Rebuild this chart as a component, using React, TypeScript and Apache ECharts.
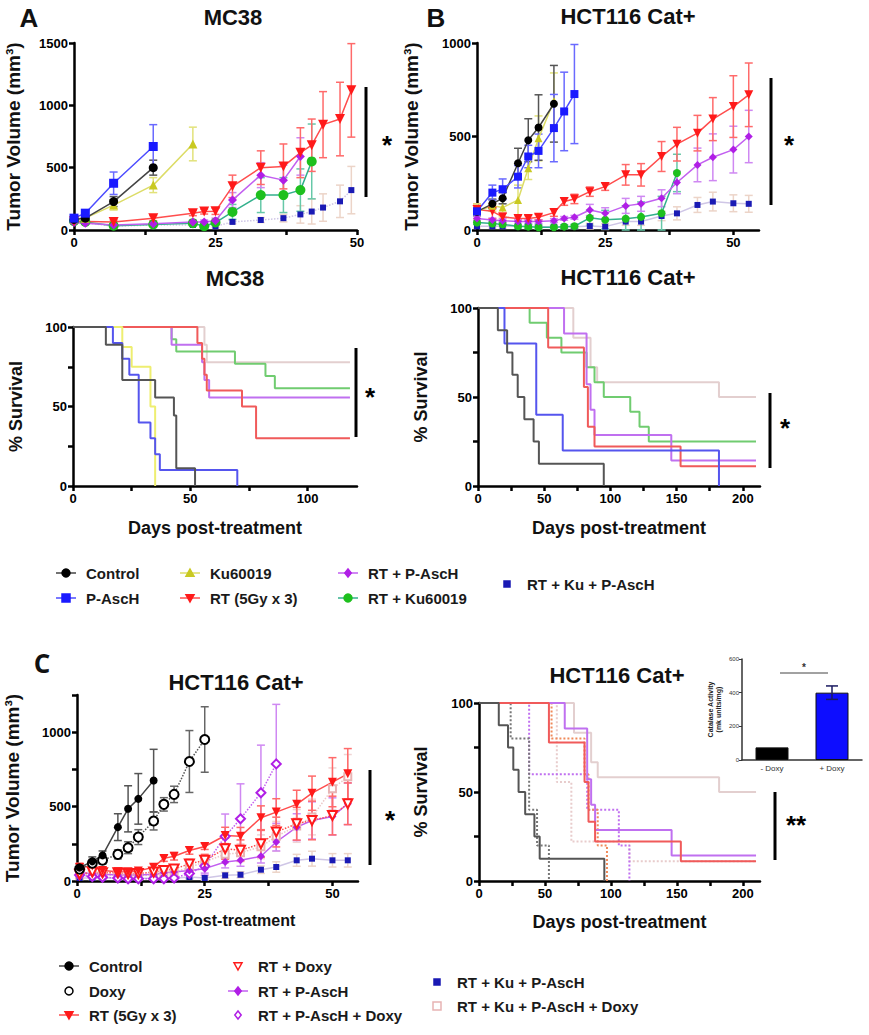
import { useEffect, useRef } from "react";
import * as echarts from "echarts";

const FONT = '"Liberation Sans", Arial, Helvetica, sans-serif';

// ================= Panel A top: MC38 tumor volume =================
const aCtrlDays = [0, 2, 7, 14];
const aCtrlVol = [85, 95, 228, 500];
const aCtrlErr = [15, 15, 40, 60];
const aPaschDays = [0, 2, 7, 14];
const aPaschVol = [95, 135, 375, 670];
const aPaschErr = [15, 20, 90, 175];
const aKuDays = [0, 2, 7, 14, 21];
const aKuVol = [90, 95, 200, 360, 690];
const aKuErr = [15, 15, 40, 60, 135];
const aRtDays = [0, 7, 14, 21, 23, 25, 28, 33, 37, 40, 42, 44, 47, 49];
const aRtVol = [70, 65, 95, 135, 148, 150, 350, 500, 510, 620, 680, 845, 890, 1120];
const aRtErr = [10, 15, 20, 20, 20, 25, 90, 135, 180, 200, 210, 265, 295, 375];
const aRtPaDays = [0, 2, 7, 14, 21, 23, 25, 28, 33, 37, 40];
const aRtPaVol = [60, 55, 40, 50, 65, 65, 75, 240, 440, 400, 590];
const aRtPaErr = [10, 10, 10, 10, 15, 15, 20, 60, 100, 120, 150];
const aRtKuDays = [0, 2, 7, 14, 21, 23, 25, 28, 33, 37, 40, 42];
const aRtKuVol = [70, 65, 35, 45, 55, 30, 60, 145, 280, 280, 320, 550];
const aRtKuErr = [10, 10, 10, 10, 15, 10, 15, 60, 140, 140, 170, 300];
const aRtKuPaDays = [0, 7, 14, 21, 25, 28, 33, 37, 40, 42, 44, 47, 49];
const aRtKuPaVol = [70, 30, 40, 40, 30, 65, 80, 95, 125, 148, 180, 230, 320];
const aRtKuPaErr = [10, 10, 10, 10, 10, 15, 20, 30, 70, 100, 110, 130, 190];

// ================= Panel B top: HCT116 Cat+ tumor volume =================
const bCtrlDays = [0, 3, 5, 8, 10, 12, 15];
const bCtrlVol = [98, 140, 170, 357, 480, 548, 675];
const bCtrlErr = [20, 25, 30, 80, 115, 175, 205];
const bKuDays = [0, 3, 5, 8, 10, 12, 15];
const bKuVol = [100, 130, 120, 160, 330, 490, 690];
const bKuErr = [40, 30, 50, 80, 60, 120, 150];
const bPaschDays = [0, 3, 5, 8, 10, 12, 15, 17, 19];
const bPaschVol = [100, 200, 218, 285, 393, 423, 545, 634, 727];
const bPaschErr = [20, 40, 55, 60, 60, 90, 180, 210, 265];
const bRtDays = [0, 3, 5, 8, 10, 12, 15, 17, 19, 22, 25, 29, 32, 36, 39, 43, 46, 50, 53];
const bRtVol = [110, 100, 70, 62, 62, 68, 93, 152, 166, 205, 232, 295, 295, 393, 459, 518, 593, 660, 723];
const bRtErr = [30, 40, 20, 15, 15, 15, 20, 20, 25, 25, 20, 55, 60, 80, 90, 95, 115, 165, 170];
const bRtPaDays = [0, 3, 5, 8, 10, 12, 15, 17, 19, 22, 25, 29, 32, 36, 39, 43, 46, 50, 53];
const bRtPaVol = [62, 54, 50, 45, 45, 45, 50, 62, 68, 107, 89, 129, 140, 170, 254, 348, 389, 430, 500];
const bRtPaErr = [10, 10, 10, 10, 10, 10, 10, 10, 10, 30, 30, 40, 40, 45, 60, 90, 125, 125, 140];
const bRtKuDays = [0, 3, 5, 8, 10, 12, 15, 17, 19, 22, 25, 29, 32, 36, 39];
const bRtKuVol = [40, 35, 30, 20, 18, 15, 15, 18, 20, 65, 55, 60, 70, 90, 305];
const bRtKuErr = [10, 10, 10, 10, 10, 10, 10, 10, 10, 40, 50, 70, 80, 90, 100];
const bRtKuPaDays = [0, 3, 5, 8, 10, 12, 15, 17, 19, 22, 25, 29, 32, 36, 39, 43, 46, 50, 53];
const bRtKuPaVol = [20, 20, 20, 20, 20, 18, 18, 18, 18, 21, 18, 45, 45, 75, 89, 134, 152, 143, 140];
const bRtKuPaErr = [10, 10, 10, 10, 10, 10, 10, 10, 10, 15, 15, 20, 20, 25, 35, 40, 50, 45, 45];

// ================= Survival A (MC38) =================
const sACtrl = [[0, 100], [14, 88.9], [21, 66.7], [35, 55.6], [43, 44.4], [44, 11.1], [52, 0]];
const sAPasch = [[0, 100], [17, 90], [21, 80], [24, 70], [28, 40], [33, 30], [35, 20], [37, 10], [70, 0]];
const sAKu = [[0, 100], [21, 87.5], [25, 75], [33, 50], [35, 0]];
const sARt = [[0, 100], [53, 90], [55, 80], [56, 70], [57, 60], [72, 50], [78, 30], [118, 30]];
const sARtPa = [[0, 100], [42, 88.9], [55, 77.8], [56, 66.7], [58, 55.6], [118, 55.6]];
const sARtKu = [[0, 100], [42, 92.3], [44, 84.6], [69, 76.9], [82, 69.2], [86, 61.5], [118, 61.5]];
const sARtKuPa = [[0, 100], [56, 88.9], [57, 77.8], [118, 77.8]];

// ================= Survival B (HCT116 Cat+) =================
const sBCtrl = [[0, 100], [15, 87.5], [22, 75], [26, 62.5], [30, 50], [35, 37.5], [42, 25], [46, 12.5], [95, 0]];
const sBPasch = [[0, 100], [20, 80], [44, 40], [64, 20], [182, 0]];
const sBRt = [[0, 100], [53, 77.8], [80, 55.6], [83, 33.3], [88, 22.2], [153, 11.1], [210, 11.1]];
const sBRtKu = [[0, 100], [39, 91.7], [52, 83.3], [63, 75], [82, 66.7], [88, 58.3], [95, 50], [115, 41.7], [122, 33.3], [129, 25], [210, 25]];
const sBRtPa = [[0, 100], [65, 85.7], [82, 57.1], [85, 42.9], [88, 28.6], [146, 14.3], [210, 14.3]];
const sBRtKuPa = [[0, 100], [72, 83.3], [85, 66.7], [90, 58.3], [182, 50], [210, 50]];

// ================= Panel C left: HCT116 Cat+ (+/- Doxy) tumor volume =================
const cCtrlDays = [0.5, 3, 5, 8, 10, 12, 15];
const cCtrlVol = [90, 132, 172, 362, 485, 552, 675];
const cCtrlErr = [20, 30, 30, 90, 155, 170, 210];
const cDoxyDays = [0.5, 3, 5, 8, 10, 12, 15, 17, 19, 22, 25];
const cDoxyVol = [80, 120, 139, 179, 224, 295, 403, 515, 582, 803, 951];
const cDoxyErr = [15, 25, 25, 30, 40, 50, 60, 45, 55, 208, 220];
const cRtDays = [0.5, 3, 5, 8, 10, 12, 15, 17, 19, 22, 25, 29, 32, 36, 39, 43, 46, 50, 53];
const cRtVol = [90, 100, 70, 62, 62, 68, 93, 152, 166, 205, 232, 306, 300, 425, 463, 515, 590, 664, 720];
const cRtErr = [30, 40, 20, 15, 15, 15, 20, 20, 25, 25, 20, 55, 60, 80, 90, 95, 115, 165, 170];
const cRtDoxyDays = [0.5, 3, 5, 8, 10, 12, 15, 17, 19, 22, 25, 29, 32, 36, 39, 43, 46, 50, 53];
const cRtDoxyVol = [45, 60, 55, 55, 50, 50, 60, 70, 80, 115, 139, 217, 206, 250, 329, 385, 407, 440, 519];
const cRtDoxyErr = [20, 30, 20, 15, 15, 15, 20, 20, 20, 30, 40, 70, 70, 90, 100, 110, 130, 130, 140];
const cRtPaDays = [0.5, 3, 5, 8, 10, 12, 15, 17, 19, 22, 25, 29, 32, 36, 39, 43, 46, 50, 53];
const cRtPaVol = [55, 50, 45, 40, 40, 40, 45, 55, 60, 70, 83, 128, 139, 166, 262, 362, 407, 434, 519];
const cRtPaErr = [10, 10, 10, 10, 10, 10, 10, 10, 10, 20, 30, 40, 40, 45, 60, 90, 125, 125, 140];
const cRtPaDoxyDays = [0.5, 3, 5, 8, 10, 12, 15, 17, 19, 22, 25, 29, 32, 36, 39];
const cRtPaDoxyVol = [40, 30, 25, 20, 15, 15, 15, 15, 20, 50, 100, 300, 418, 593, 787];
const cRtPaDoxyErr = [10, 10, 10, 10, 10, 10, 10, 10, 10, 30, 60, 150, 235, 320, 400];
const cRtKuPaDays = [0.5, 3, 5, 8, 10, 12, 15, 17, 19, 22, 25, 29, 32, 36, 39, 43, 46, 50, 53];
const cRtKuPaVol = [20, 20, 20, 20, 20, 18, 18, 18, 18, 27, 20, 38, 42, 76, 94, 139, 150, 139, 139];
const cRtKuPaErr = [10, 10, 10, 10, 10, 10, 10, 10, 10, 15, 15, 20, 20, 25, 35, 40, 50, 45, 45];
const cRtKuPaDoxyDays = [0.5, 3, 5, 8, 10, 12, 15, 17, 19, 22, 25, 29, 32, 36, 39, 43, 46, 50, 53];
const cRtKuPaDoxyVol = [40, 45, 40, 40, 35, 35, 40, 50, 60, 90, 130, 180, 190, 230, 300, 370, 430, 620, 700];
const cRtKuPaDoxyErr = [15, 15, 15, 15, 15, 15, 15, 20, 20, 30, 40, 60, 60, 80, 100, 110, 120, 140, 150];

// ================= Survival C (HCT116 Cat+, +/- Doxy) =================
const sCCtrl = [[0, 100], [15, 87.5], [22, 75], [26, 62.5], [30, 50], [35, 37.5], [42, 25], [46, 12.5], [95, 0]];
const sCDoxy = [[0, 100], [24, 80], [38, 40], [44, 20], [53, 0]];
const sCRt = [[0, 100], [53, 77.8], [80, 55.6], [83, 33.3], [88, 22.2], [153, 11.1], [210, 11.1]];
const sCRtDoxy = [[0, 100], [55, 80], [80, 60], [83, 40], [90, 20], [97, 0]];
const sCRtPa = [[0, 100], [65, 85.7], [82, 57.1], [85, 42.9], [88, 28.6], [146, 14.3], [210, 14.3]];
const sCRtPaDoxy = [[0, 100], [38, 60], [82, 40], [106, 20], [114, 0]];
const sCRtKuPa = [[0, 100], [72, 83.3], [85, 66.7], [90, 58.3], [182, 50], [210, 50]];
const sCRtKuPaDoxy = [[0, 100], [59, 55.6], [70, 22.2], [114, 11.1], [210, 11.1]];

// ================= Inset: catalase activity =================
const insetCats = ["- Doxy", "+ Doxy"];
const insetVals = [75, 400];
const insetErr = [0, 40];

// tick values
const volTicksX = [0, 12.5, 25, 37.5, 50];
const volLabelsX = [0, 25, 50];
const survTicksA = [0, 25, 50, 75, 100];
const survLabelsA = [0, 50, 100];
const survTicksB = [0, 25, 50, 75, 100, 125, 150, 175, 200];
const survLabelsB = [0, 50, 100, 150, 200];
const pctTicks = [0, 25, 50, 75, 100];
const pctLabels = [0, 50, 100];

// ---------- colours ----------
const C = {
  ctrl: { m: "#000000", l: "#444444", e: "#555555", s: "#555555" },
  doxy: { m: "#000000", l: "#555555", e: "#666666", s: "#777777" },
  pasch: { m: "#1a1aff", l: "#4d4dff", e: "#6a6aff", s: "#5555ee" },
  ku: { m: "#c9c922", l: "#dcdc66", e: "#e2e27a", s: "#eeee70" },
  rt: { m: "#ff1a1a", l: "#ff4d4d", e: "#ff6a6a", s: "#f05a5a" },
  rtpa: { m: "#b01ee6", l: "#c25ff0", e: "#cf88f2", s: "#c070f0" },
  rtku: { m: "#1ec01e", l: "#33b08c", e: "#66c8a8", s: "#70cc70" },
  rtkupa: { m: "#1a1ab4", l: "#cfc6e6", e: "#ecd4c8", s: "#e3cfcf" },
  pale: { m: "#e8b4b4", l: "#ecc8c8", e: "#f0d4d4", s: "#e8cccc" },
};

const pairs = (d: number[], v: number[]) => d.map((x, i) => [x, v[i]]);
const errs = (d: number[], v: number[], e: number[]) => d.map((x, i) => [x, v[i] - e[i], v[i] + e[i]]);

function errSeries(gi: number, data: number[][], color: string, cap = 4, w = 1.5) {
  return {
    type: "custom",
    xAxisIndex: gi,
    yAxisIndex: gi,
    silent: true,
    z: 1,
    data,
    encode: { x: 0, y: [1, 2] },
    renderItem: (_p: any, api: any) => {
      const x = api.value(0);
      const lo = Math.max(api.value(1), 0);
      const hi = api.value(2);
      const a = api.coord([x, hi]);
      const b = api.coord([x, lo]);
      const st = { stroke: color, lineWidth: w };
      return {
        type: "group",
        children: [
          { type: "line", shape: { x1: a[0], y1: a[1], x2: b[0], y2: b[1] }, style: st },
          { type: "line", shape: { x1: a[0] - cap, y1: a[1], x2: a[0] + cap, y2: a[1] }, style: st },
          { type: "line", shape: { x1: b[0] - cap, y1: b[1], x2: b[0] + cap, y2: b[1] }, style: st },
        ],
      };
    },
  };
}

function volSeries(
  gi: number,
  name: string,
  d: number[],
  v: number[],
  e: number[],
  c: any,
  symbol: string,
  size: number,
  opt: any = {}
) {
  return [
    errSeries(gi, errs(d, v, e), c.e),
    {
      type: "line",
      name,
      xAxisIndex: gi,
      yAxisIndex: gi,
      data: pairs(d, v),
      symbol,
      symbolSize: size,
      symbolRotate: opt.rotate || 0,
      showAllSymbol: true,
      z: 3,
      itemStyle: { color: c.m, borderColor: c.m, borderWidth: opt.empty ? 1.5 : 0 },
      lineStyle: { color: c.l, width: 1.5, type: opt.dash || "solid" },
    },
  ];
}

function survSeries(gi: number, name: string, data: number[][], color: string, dash = "solid", z = 2) {
  return {
    type: "line",
    name,
    xAxisIndex: gi,
    yAxisIndex: gi,
    data,
    step: "end",
    symbol: "none",
    z,
    lineStyle: { color, width: 2, type: dash },
  };
}

const axisBase = (fs = 13) => ({
  axisLine: { show: true, onZero: false, lineStyle: { color: "#000", width: 2.5 } },
  axisTick: { show: true, length: 5, lineStyle: { color: "#000", width: 2.5 } },
  axisLabel: {
    color: "#000",
    fontWeight: "bold",
    fontSize: fs,
    fontFamily: FONT,
    margin: 6,
    formatter: (v: number) => String(v),
  },
  splitLine: { show: false },
});

function valAxis(gi: number, max: number, ticks: number[], labels: number[], extra: any = {}) {
  const b = axisBase();
  return {
    type: "value",
    gridIndex: gi,
    min: 0,
    max,
    ...b,
    axisTick: { ...b.axisTick, customValues: ticks },
    axisLabel: { ...b.axisLabel, customValues: labels },
    nameLocation: "middle",
    nameTextStyle: { color: "#111", fontWeight: "bold", fontFamily: FONT, fontSize: 18 },
    ...extra,
  };
}

type Mk = "circle" | "square" | "tri" | "down" | "diamond";
function marker(shape: Mk, x: number, y: number, r: number, fill: string, stroke: string) {
  const style = { fill, stroke, lineWidth: 1.5 };
  if (shape === "circle") return { type: "circle", shape: { cx: x, cy: y, r }, style };
  if (shape === "square") return { type: "rect", shape: { x: x - r, y: y - r, width: 2 * r, height: 2 * r }, style };
  if (shape === "tri") return { type: "polygon", shape: { points: [[x, y - r], [x + r, y + r * 0.8], [x - r, y + r * 0.8]] }, style };
  if (shape === "down") return { type: "polygon", shape: { points: [[x, y + r], [x + r, y - r * 0.8], [x - r, y - r * 0.8]] }, style };
  return { type: "polygon", shape: { points: [[x, y - r], [x + r * 0.8, y], [x, y + r], [x - r * 0.8, y]] }, style };
}

function legendItem(x: number, y: number, label: string, shape: Mk, fill: string, stroke: string, line: string | null, r = 4) {
  const els: any[] = [];
  if (line) els.push({ type: "line", shape: { x1: x - 10, y1: y, x2: x + 10, y2: y }, style: { stroke: line, lineWidth: 1.5 } });
  els.push(marker(shape, x, y, r, fill, stroke));
  els.push({
    type: "text",
    x: x + 20,
    y,
    style: { text: label, fontSize: 15, fontWeight: "bold", fontFamily: FONT, fill: "#1a1a1a", align: "left", verticalAlign: "middle" },
  });
  return els;
}

function txt(x: number, y: number, text: string, size: number, extra: any = {}) {
  return {
    type: "text",
    x,
    y,
    style: { text, fontSize: size, fontWeight: "bold", fontFamily: FONT, fill: "#111", align: "center", verticalAlign: "middle", ...extra },
  };
}

function sig(x: number, y1: number, y2: number, sx: number, sy: number, star: string) {
  return [
    { type: "line", shape: { x1: x, y1, x2: x, y2 }, style: { stroke: "#000", lineWidth: 3 } },
    txt(sx, sy + 5, star, 26, { fill: "#000" }),
  ];
}

function buildOption() {
  const VOL = "Tumor Volume (mm³)";
  const volName = { color: "#111", fontWeight: "bold", fontFamily: FONT, fontSize: 19 };
  const grids = [
    { left: 74, top: 43, width: 283, height: 187 },
    { left: 477, top: 43, width: 282, height: 187 },
    { left: 73, top: 327, width: 284, height: 159 },
    { left: 478, top: 308, width: 282, height: 178 },
    { left: 77, top: 695, width: 281, height: 186 },
    { left: 479, top: 703, width: 281, height: 178 },
    { left: 742, top: 659, width: 120, height: 101 },
  ];

  const xAxis: any[] = [
    valAxis(0, 50, volTicksX, volLabelsX),
    valAxis(1, 55, volTicksX, volLabelsX),
    valAxis(2, 121, survTicksA, survLabelsA, { name: "Days post-treatment", nameGap: 33 }),
    valAxis(3, 213, survTicksB, survLabelsB, { name: "Days post-treatment", nameGap: 33 }),
    valAxis(4, 55, volTicksX, volLabelsX, { name: "Days Post-treatment", nameGap: 31, nameTextStyle: { color: "#111", fontWeight: "bold", fontFamily: FONT, fontSize: 16 } }),
    valAxis(5, 213, survTicksB, survLabelsB, { name: "Days post-treatment", nameGap: 32 }),
    {
      type: "category",
      gridIndex: 6,
      data: insetCats,
      axisLine: { lineStyle: { color: "#333", width: 1.5 } },
      axisTick: { show: false },
      axisLabel: { color: "#333", fontSize: 8, fontFamily: FONT, margin: 4 },
    },
  ];
  const yAxis: any[] = [
    valAxis(0, 1500, [0, 500, 1000, 1500], [0, 500, 1000, 1500], { name: VOL, nameGap: 51, nameTextStyle: volName }),
    valAxis(1, 1000, [0, 500, 1000], [0, 500, 1000], { name: VOL, nameGap: 56, nameTextStyle: volName }),
    valAxis(2, 100, pctTicks, pctLabels, { name: "% Survival", nameGap: 48 }),
    valAxis(3, 100, pctTicks, pctLabels, { name: "% Survival", nameGap: 48 }),
    valAxis(4, 1250, [0, 250, 500, 750, 1000, 1250], [0, 500, 1000], { name: VOL, nameGap: 55, nameTextStyle: volName }),
    valAxis(5, 100, pctTicks, pctLabels, { name: "% Survival", nameGap: 49 }),
    {
      type: "value",
      gridIndex: 6,
      min: 0,
      max: 600,
      interval: 200,
      axisLine: { show: true, lineStyle: { color: "#333", width: 1.5 } },
      axisTick: { show: true, length: 3, lineStyle: { color: "#333" } },
      axisLabel: { color: "#333", fontSize: 6, fontFamily: FONT, margin: 3, formatter: (v: number) => String(v) },
      splitLine: { show: false },
      name: "Catalase Activity\n(mk units/mg)",
      nameLocation: "middle",
      nameGap: 20,
      nameTextStyle: { color: "#222", fontWeight: "bold", fontFamily: FONT, fontSize: 7, lineHeight: 8 },
    },
  ];

  const series: any[] = [
    // A top
    ...volSeries(0, "RT + Ku + P-AscH", aRtKuPaDays, aRtKuPaVol, aRtKuPaErr, C.rtkupa, "rect", 6, { dash: "dotted" }),
    ...volSeries(0, "RT + Ku60019", aRtKuDays, aRtKuVol, aRtKuErr, C.rtku, "circle", 10),
    ...volSeries(0, "RT + P-AscH", aRtPaDays, aRtPaVol, aRtPaErr, C.rtpa, "diamond", 9),
    ...volSeries(0, "RT (5Gy x 3)", aRtDays, aRtVol, aRtErr, C.rt, "triangle", 10, { rotate: 180 }),
    ...volSeries(0, "Ku60019", aKuDays, aKuVol, aKuErr, C.ku, "triangle", 9),
    ...volSeries(0, "Control", aCtrlDays, aCtrlVol, aCtrlErr, C.ctrl, "circle", 9),
    ...volSeries(0, "P-AscH", aPaschDays, aPaschVol, aPaschErr, C.pasch, "rect", 9),
    // B top
    ...volSeries(1, "RT + Ku + P-AscH", bRtKuPaDays, bRtKuPaVol, bRtKuPaErr, C.rtkupa, "rect", 6),
    ...volSeries(1, "RT + Ku60019", bRtKuDays, bRtKuVol, bRtKuErr, C.rtku, "circle", 8),
    ...volSeries(1, "RT + P-AscH", bRtPaDays, bRtPaVol, bRtPaErr, C.rtpa, "diamond", 8),
    ...volSeries(1, "RT (5Gy x 3)", bRtDays, bRtVol, bRtErr, C.rt, "triangle", 9, { rotate: 180 }),
    ...volSeries(1, "Ku60019", bKuDays, bKuVol, bKuErr, C.ku, "triangle", 8),
    ...volSeries(1, "Control", bCtrlDays, bCtrlVol, bCtrlErr, C.ctrl, "circle", 8),
    ...volSeries(1, "P-AscH", bPaschDays, bPaschVol, bPaschErr, C.pasch, "rect", 8),
    // A survival
    survSeries(2, "RT + Ku + P-AscH", sARtKuPa, C.rtkupa.s, "solid", 1),
    survSeries(2, "RT + Ku60019", sARtKu, C.rtku.s),
    survSeries(2, "RT + P-AscH", sARtPa, C.rtpa.s),
    survSeries(2, "RT (5Gy x 3)", sARt, C.rt.s),
    survSeries(2, "Ku60019", sAKu, C.ku.s),
    survSeries(2, "P-AscH", sAPasch, C.pasch.s),
    survSeries(2, "Control", sACtrl, C.ctrl.s),
    // B survival
    survSeries(3, "RT + Ku + P-AscH", sBRtKuPa, C.rtkupa.s, "solid", 1),
    survSeries(3, "RT + Ku60019", sBRtKu, C.rtku.s),
    survSeries(3, "RT + P-AscH", sBRtPa, C.rtpa.s),
    survSeries(3, "RT (5Gy x 3)", sBRt, C.rt.s),
    survSeries(3, "P-AscH", sBPasch, C.pasch.s),
    survSeries(3, "Control", sBCtrl, C.ctrl.s),
    // C left
    ...volSeries(4, "RT + Ku + P-AscH + Doxy", cRtKuPaDoxyDays, cRtKuPaDoxyVol, cRtKuPaDoxyErr, C.pale, "emptyRect", 7, { empty: true, dash: "dotted" }),
    ...volSeries(4, "RT + Ku + P-AscH", cRtKuPaDays, cRtKuPaVol, cRtKuPaErr, C.rtkupa, "rect", 6),
    ...volSeries(4, "RT + P-AscH + Doxy", cRtPaDoxyDays, cRtPaDoxyVol, cRtPaDoxyErr, C.rtpa, "emptyDiamond", 9, { empty: true, dash: "dotted" }),
    ...volSeries(4, "RT + P-AscH", cRtPaDays, cRtPaVol, cRtPaErr, C.rtpa, "diamond", 8),
    ...volSeries(4, "RT + Doxy", cRtDoxyDays, cRtDoxyVol, cRtDoxyErr, C.rt, "emptyTriangle", 9, { rotate: 180, empty: true, dash: "dotted" }),
    ...volSeries(4, "RT (5Gy x 3)", cRtDays, cRtVol, cRtErr, C.rt, "triangle", 9, { rotate: 180 }),
    ...volSeries(4, "Doxy", cDoxyDays, cDoxyVol, cDoxyErr, C.doxy, "emptyCircle", 9, { empty: true, dash: "dotted" }),
    ...volSeries(4, "Control", cCtrlDays, cCtrlVol, cCtrlErr, C.ctrl, "circle", 8),
    // C survival
    survSeries(5, "RT + Ku + P-AscH + Doxy", sCRtKuPaDoxy, C.pale.s, "dotted", 1),
    survSeries(5, "RT + Ku + P-AscH", sCRtKuPa, C.rtkupa.s, "solid", 1),
    survSeries(5, "RT + P-AscH + Doxy", sCRtPaDoxy, C.rtpa.s, "dotted"),
    survSeries(5, "RT + Doxy", sCRtDoxy, "#f08a5a", "dotted"),
    survSeries(5, "Doxy", sCDoxy, "#777777", "dotted"),
    survSeries(5, "RT + P-AscH", sCRtPa, C.rtpa.s),
    survSeries(5, "RT (5Gy x 3)", sCRt, C.rt.s),
    survSeries(5, "Control", sCCtrl, C.ctrl.s),
    // inset
    {
      type: "bar",
      xAxisIndex: 6,
      yAxisIndex: 6,
      barWidth: 33,
      data: insetVals.map((v, i) => ({
        value: v,
        itemStyle: { color: i === 0 ? "#000000" : "#0d0dff", borderColor: "#111", borderWidth: 1 },
      })),
      z: 2,
    },
    errSeries(6, insetVals.map((v, i) => [i, v - insetErr[i], v + insetErr[i]]).filter((_r, i) => insetErr[i] > 0), "#1a1a60", 6, 1.5),
  ];
  (series[series.length - 1] as any).z = 3;

  const g: any[] = [];
  // panel letters & titles
  g.push(txt(29, 18, "A", 26));
  g.push(txt(436, 18, "B", 26));
  g.push(txt(42, 663, "C", 26, { fontFamily: '"Open Sans", ' + FONT }));
  g.push(txt(233, 17, "MC38", 22));
  g.push(txt(628, 16, "HCT116 Cat+", 22));
  g.push(txt(235, 278, "MC38", 22));
  g.push(txt(628, 277, "HCT116 Cat+", 22));
  g.push(txt(236, 682, "HCT116 Cat+", 22));
  g.push(txt(617, 675, "HCT116 Cat+", 22));
  // significance bars
  g.push(...sig(366, 87, 197, 387, 140, "*"));
  g.push(...sig(771, 78, 205, 789, 140, "*"));
  g.push(...sig(356, 348, 437, 370, 392, "*"));
  g.push(...sig(770, 393, 468, 785, 423, "*"));
  g.push(...sig(370, 770, 865, 390, 815, "*"));
  g.push(...sig(775, 792, 860, 796, 820, "**"));
  // inset significance
  g.push({ type: "line", shape: { x1: 780, y1: 673, x2: 828, y2: 673 }, style: { stroke: "#444", lineWidth: 1 } });
  g.push(txt(804, 667, "*", 10, { fill: "#333" }));
  // legend 1
  g.push(...legendItem(66, 573, "Control", "circle", C.ctrl.m, C.ctrl.m, C.ctrl.l));
  g.push(...legendItem(66, 598, "P-AscH", "square", C.pasch.m, C.pasch.m, C.pasch.l));
  g.push(...legendItem(190, 573, "Ku60019", "tri", C.ku.m, C.ku.m, C.ku.l));
  g.push(...legendItem(190, 598, "RT (5Gy x 3)", "down", C.rt.m, C.rt.m, C.rt.l));
  g.push(...legendItem(348, 573, "RT + P-AscH", "diamond", C.rtpa.m, C.rtpa.m, C.rtpa.l));
  g.push(...legendItem(348, 598, "RT + Ku60019", "circle", C.rtku.m, C.rtku.m, C.rtku.l));
  g.push(...legendItem(507, 584, "RT + Ku + P-AscH", "square", C.rtkupa.m, C.rtkupa.m, null, 3));
  // legend 2
  g.push(...legendItem(69, 966, "Control", "circle", C.ctrl.m, C.ctrl.m, C.ctrl.l));
  g.push(...legendItem(69, 991, "Doxy", "circle", "#ffffff", C.doxy.m, null));
  g.push(...legendItem(69, 1015, "RT (5Gy x 3)", "down", C.rt.m, C.rt.m, C.rt.l));
  g.push(...legendItem(238, 966, "RT + Doxy", "down", "#ffffff", C.rt.m, null));
  g.push(...legendItem(238, 991, "RT + P-AscH", "diamond", C.rtpa.m, C.rtpa.m, C.rtpa.l));
  g.push(...legendItem(238, 1015, "RT + P-AscH + Doxy", "diamond", "#ffffff", C.rtpa.m, null));
  g.push(...legendItem(437, 982, "RT + Ku + P-AscH", "square", C.rtkupa.m, C.rtkupa.m, null, 3));
  g.push(...legendItem(437, 1006, "RT + Ku + P-AscH + Doxy", "square", "#ffffff", C.pale.m, null, 4));

  return {
    animation: false,
    backgroundColor: "#ffffff",
    textStyle: { fontFamily: FONT },
    grid: grids,
    xAxis,
    yAxis,
    series,
    graphic: g,
  };
}

export default function App() {
  const ref = useRef<HTMLDivElement>(null);
  useEffect(() => {
    document.body.style.margin = "0";
    if (!ref.current) return;
    const chart = echarts.init(ref.current, undefined, { renderer: "svg" });
    chart.setOption(buildOption() as any);
    return () => chart.dispose();
  }, []);
  return <div ref={ref} style={{ width: 869, height: 1035 }} />;
}
